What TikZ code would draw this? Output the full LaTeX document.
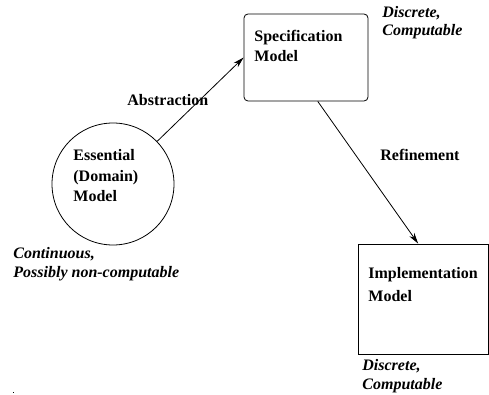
\documentclass[tikz,border=0pt]{standalone}
\usepackage{fontspec}
\setmainfont{Liberation Serif}
\usetikzlibrary{arrows.meta}
\begin{document}
\begin{tikzpicture}[x=1pt,y=-1pt,line width=0.8pt,
  every node/.style={font=\fontsize{16}{20}\selectfont\bfseries,inner sep=0pt},
  label text/.style={anchor=base west,align=left},
  note/.style={anchor=base west,align=left,font=\fontsize{16}{18.5}\selectfont\bfseries\itshape},
  flow/.style={-{Stealth[length=11pt,width=6pt]}}]
  \useasboundingbox (0,0) rectangle (489,395);
  % models (text blocks placed by their last baseline)
  \node[draw,circle,minimum size=122pt] (ess) at (113,184) {};
  \node[draw,rounded corners=4pt,minimum width=124pt,minimum height=87pt] (spec) at (306,57.5) {};
  \node[draw,minimum width=130pt,minimum height=110pt] (impl) at (423,299) {};
  \node[label text] (esstext) at (73,201) {Essential\\(Domain)\\Model};
  \node[label text] (spectext) at (254,62) {Specification\\Model};
  \node[label text] (impltext) at (368,301) {Implementation\\[3pt]Model};
  % properties
  \node[note] (essnote) at (13,277) {Continuous,\\Possibly non-computable};
  \node[note] (specnote) at (382,36) {Discrete,\\Computable};
  \node[note] (implnote) at (362,389) {Discrete,\\Computable};
  % transitions
  \node[label text] (abs) at (127,106) {Abstraction};
  \node[label text] (ref) at (380,161) {Refinement};
  \draw[flow] (ess.44) -- (spec.west);
  \draw[flow] (spec.-75) -- (impl.95);
  \node[fill,minimum size=1pt] (dot) at (13,392) {};
\end{tikzpicture}
\end{document}
